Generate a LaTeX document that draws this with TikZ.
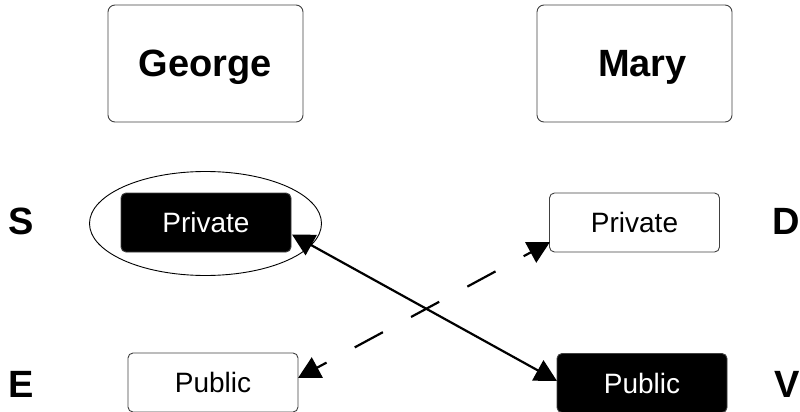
\documentclass[tikz,border=0pt]{standalone}
\usepackage{fontspec}
\setmainfont{Liberation Sans}
\usetikzlibrary{arrows.meta,shapes.geometric}
\begin{document}
\begin{tikzpicture}[x=1pt,y=-1pt,
  bigbox/.style={draw=black!75,line width=0.9pt,rounded corners=7pt,minimum width=195pt,minimum height=117pt,inner sep=0pt,text height=27pt,text depth=0pt,font=\fontsize{38}{42}\selectfont\bfseries},
  wbox/.style={draw=black!75,line width=0.9pt,rounded corners=5pt,minimum width=170pt,minimum height=59pt,inner sep=0pt,text height=20pt,text depth=0pt,font=\fontsize{28}{32}\selectfont},
  bbox/.style={wbox,fill=black,text=white},
  lab/.style={font=\fontsize{38}{42}\selectfont\bfseries,inner sep=0pt,text height=27pt,text depth=0pt},
  conn/.style={line width=2.2pt,{Triangle[length=22pt,width=23pt]}-{Triangle[length=22pt,width=23pt]}}
]
\useasboundingbox (0,0) rectangle (800,412);
\node[bigbox] (george) at (205.5,63.5) {George};
\node[bigbox] (mary) at (634.5,63.5) {\hspace*{16pt}Mary};
\node[bbox] (gpriv) at (206,222.5) {Private};
\node[draw,ellipse,line width=0.9pt,inner sep=0pt,minimum width=232pt,minimum height=104pt] (ell) at (205.5,223.5) {};
\node[wbox] (mpriv) at (634.5,222.5) {Private};
\node[wbox] (gpub) at (213,382.5) {Public};
\node[bbox] (mpub) at (642,383) {Public};
\node[lab] (S) at (21,220.5) {S};
\node[lab] (E) at (21.5,384) {E};
\node[lab] (D) at (786,220.5) {D};
\node[lab] (V) at (787,383.5) {V};
\coordinate (a1) at (292,234.5);
\coordinate (a2) at (557,381);
\coordinate (b1) at (298,378);
\coordinate (b2) at (550,242);
\draw[conn] (a1) -- (a2);
\draw[conn,dash pattern=on 32pt off 32pt,dash phase=21pt] (b1) -- (b2);
\end{tikzpicture}
\end{document}
